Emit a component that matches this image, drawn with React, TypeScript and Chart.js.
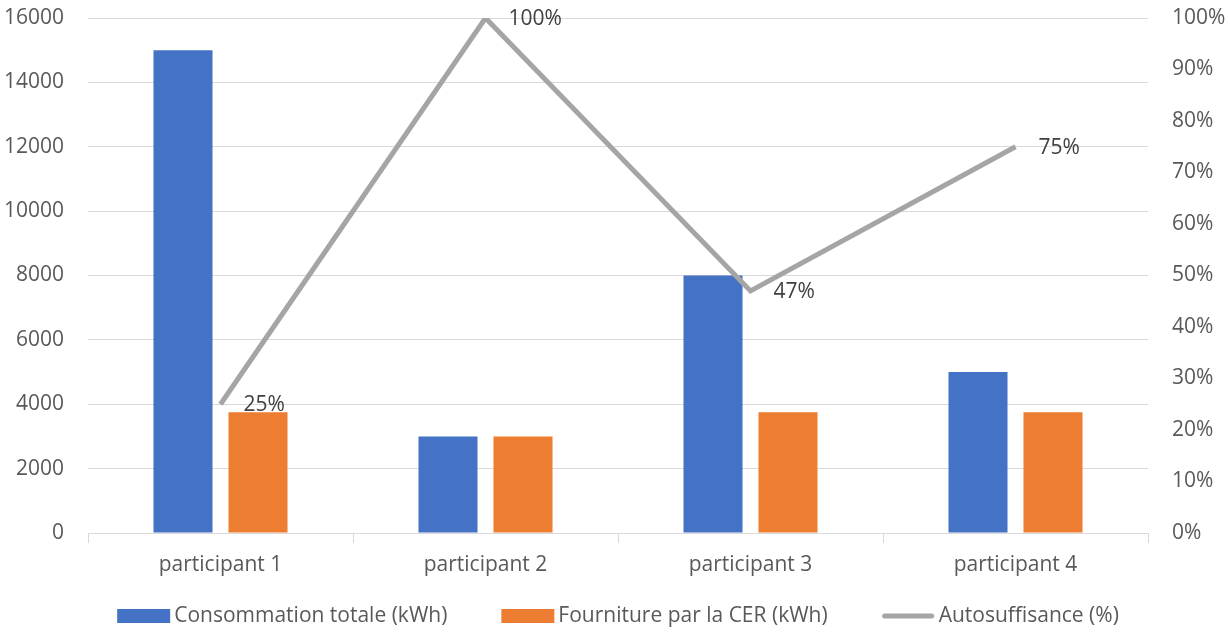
import React, { useEffect, useRef } from "react";
import { Chart, registerables } from "chart.js";

Chart.register(...registerables);

const categories = ["participant 1", "participant 2", "participant 3", "participant 4"];
const consommation = [15000, 3000, 8000, 5000];
const fourniture = [3750, 3000, 3750, 3750];
const autosuffisance = [25, 100, 47, 75];

const FONT = "'Open Sans', sans-serif";
const FS = 21;

const labelPlugin = {
  id: "lineLabels",
  afterDatasetsDraw(chart: any) {
    const ctx = chart.ctx;
    const idx = chart.data.datasets.findIndex((d: any) => d.type === "line");
    const meta = chart.getDatasetMeta(idx);
    ctx.save();
    ctx.font = `${FS}px ${FONT}`;
    ctx.fillStyle = "#404040";
    ctx.textAlign = "left";
    ctx.textBaseline = "middle";
    meta.data.forEach((pt: any, i: number) => {
      ctx.fillText(autosuffisance[i] + "%", pt.x + 23, pt.y + 1);
    });
    ctx.restore();
  },
};

const legendPlugin = {
  id: "customLegend",
  afterDraw(chart: any) {
    const ctx = chart.ctx;
    const ca = chart.chartArea;
    ctx.save();
    ctx.font = `${FS}px ${FONT}`;
    ctx.textBaseline = "middle";
    ctx.textAlign = "left";
    const boxW = 53;
    const gap = 4;
    const spacing = 54;
    const items = chart.data.datasets.map((d: any) => ({
      label: d.label,
      type: d.type,
      color: d.type === "line" ? d.borderColor : d.backgroundColor,
      w: boxW + gap + ctx.measureText(d.label).width,
    }));
    const total = items.reduce((s: number, it: any) => s + it.w, 0) + spacing * (items.length - 1);
    let x = (ca.left + ca.right) / 2 - total / 2;
    const y = 616;
    items.forEach((it: any) => {
      if (it.type === "line") {
        ctx.strokeStyle = it.color;
        ctx.lineWidth = 5;
        ctx.lineCap = "round";
        ctx.beginPath();
        ctx.moveTo(x + 3, y);
        ctx.lineTo(x + boxW - 3, y);
        ctx.stroke();
      } else {
        ctx.fillStyle = it.color;
        ctx.fillRect(x, y - 7, boxW, 14);
      }
      ctx.fillStyle = "#595959";
      ctx.fillText(it.label, x + boxW + gap, y);
      x += it.w + spacing;
    });
    ctx.restore();
  },
};

function fixPad(s: any, w: number) {
  s.width = w;
  s.paddingTop = 18;
  s.paddingBottom = 0;
}

export default function App() {
  const ref = useRef<HTMLCanvasElement>(null);
  useEffect(() => {
    const chart = new Chart(ref.current!, {
      type: "bar",
      data: {
        labels: categories,
        datasets: [
          {
            type: "bar",
            label: "Consommation totale (kWh)",
            data: consommation,
            backgroundColor: "#4472C4",
            yAxisID: "y",
            order: 2,
            categoryPercentage: 0.566,
            barPercentage: 0.787,
          },
          {
            type: "bar",
            label: "Fourniture par la CER (kWh)",
            data: fourniture,
            backgroundColor: "#ED7D31",
            yAxisID: "y",
            order: 3,
            categoryPercentage: 0.566,
            barPercentage: 0.787,
          },
          {
            type: "line",
            label: "Autosuffisance (%)",
            data: autosuffisance,
            borderColor: "#A5A5A5",
            backgroundColor: "#A5A5A5",
            borderWidth: 5,
            pointRadius: 0,
            tension: 0,
            yAxisID: "y1",
            order: 0,
          } as any,
        ],
      },
      options: {
        responsive: false,
        animation: false,
        layout: { padding: { top: 0, bottom: 52, left: 0, right: 0 } },
        plugins: {
          legend: { display: false },
          tooltip: { enabled: false },
        },
        scales: {
          x: {
            grid: {
              display: true,
              drawOnChartArea: false,
              drawTicks: true,
              tickLength: 10,
              color: "#D9D9D9",
              offset: true,
            },
            border: { display: true, color: "#D9D9D9", width: 1 },
            ticks: { font: { family: FONT, size: FS }, color: "#595959", padding: 9 },
            afterFit(s: any) { s.height = 50; },
          },
          y: {
            position: "left",
            min: 0,
            max: 16000,
            ticks: {
              stepSize: 2000,
              font: { family: FONT, size: FS },
              color: "#595959",
              padding: 24,
              callback: (v: any) => String(v),
            },
            grid: { color: "#D9D9D9", drawTicks: false },
            border: { display: false },
            afterFit(s: any) { fixPad(s, 88); },
          },
          y1: {
            position: "right",
            min: 0,
            max: 100,
            ticks: {
              stepSize: 10,
              font: { family: FONT, size: FS },
              color: "#595959",
              padding: 24,
              callback: (v: any) => v + "%",
            },
            grid: { display: false, drawTicks: false },
            border: { display: false },
            afterFit(s: any) { fixPad(s, 82); },
          },
        },
      },
      plugins: [labelPlugin, legendPlugin],
    } as any);
    return () => chart.destroy();
  }, []);
  return (
    <div style={{ position: "fixed", left: 0, top: 0, width: 1230, height: 635, background: "#fff" }}>
      <canvas ref={ref} width={1230} height={635} style={{ width: 1230, height: 635 }} />
    </div>
  );
}
